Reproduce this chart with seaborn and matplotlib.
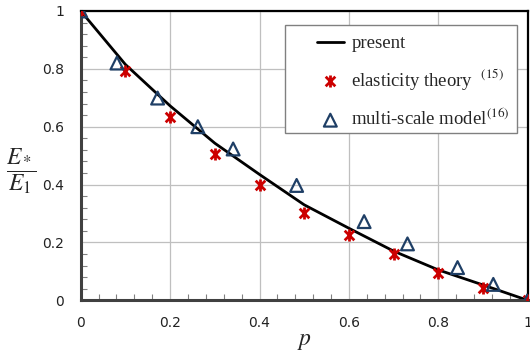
import numpy as np
import matplotlib
matplotlib.use('Agg')
import matplotlib.pyplot as plt
from matplotlib.path import Path
from matplotlib.patches import Rectangle
from matplotlib.ticker import MultipleLocator
import seaborn as sns

# data
p_present = [0.0, 0.1, 0.2, 0.3, 0.4, 0.5, 0.6, 0.7, 0.8, 0.9, 1.0]
e_present = [1.0, 0.815, 0.672, 0.543, 0.435, 0.33, 0.249, 0.17, 0.105, 0.053, 0.0]

p_elastic = [0.0, 0.1, 0.2, 0.3, 0.4, 0.5, 0.6, 0.7, 0.8, 0.9, 1.0]
e_elastic = [1.0, 0.791, 0.633, 0.506, 0.397, 0.301, 0.226, 0.159, 0.096, 0.044, 0.0]

p_multi = [0.0, 0.081, 0.172, 0.262, 0.341, 0.483, 0.634, 0.731, 0.843, 0.923, 1.0]
e_multi = [1.0, 0.82, 0.699, 0.60, 0.523, 0.397, 0.272, 0.195, 0.113, 0.055, 0.0]

ticks = [0, 0.2, 0.4, 0.6, 0.8, 1.0]
tick_labels = ['0', '0.2', '0.4', '0.6', '0.8', '1']

sns.set_style('white')
plt.rcParams['mathtext.fontset'] = 'stix'

# Excel style star marker: x with a vertical bar
star = Path([(-1, -1), (1, 1), (-1, 1), (1, -1), (0, -1.25), (0, 1.25)],
            [Path.MOVETO, Path.LINETO, Path.MOVETO, Path.LINETO, Path.MOVETO, Path.LINETO])

fig = plt.figure(figsize=(5.3, 3.54), dpi=100)
ax = fig.add_axes([0.1523, 0.1517, 0.8434, 0.8173])

sns.lineplot(x=p_present, y=e_present, ax=ax, color='black', lw=2, label='present')
sns.scatterplot(x=p_elastic, y=e_elastic, ax=ax, marker=star, s=75, color='#cc0000',
                edgecolor='#cc0000', linewidth=2, label=r'elasticity theory  $^{(15)}$', zorder=3)
sns.scatterplot(x=p_multi, y=e_multi, ax=ax, marker='^', s=85, facecolor='none',
                edgecolor='#1f3f66', linewidth=1.6, label=r'multi-scale model$^{(16)}$', zorder=3)

ax.set_xlim(0, 1)
ax.set_ylim(0, 1)
ax.set_xticks(ticks)
ax.set_yticks(ticks)
ax.set_xticklabels(tick_labels)
ax.set_yticklabels(tick_labels)
ax.xaxis.set_minor_locator(MultipleLocator(0.04))
ax.yaxis.set_minor_locator(MultipleLocator(0.04))
ax.grid(True, which='major', color='#bfbfbf', lw=0.9)
ax.set_axisbelow(True)

ax.tick_params(axis='x', which='major', direction='out', length=4, width=1, color='#404040',
               labelsize=10, pad=7, labelcolor='#222222')
ax.tick_params(axis='y', which='major', direction='out', length=0, labelsize=10, pad=12,
               labelcolor='#222222')
ax.tick_params(which='minor', direction='in', length=4, width=0.8, color='#808080')
ax.tick_params(axis='x', which='minor', bottom=True)
ax.tick_params(axis='y', which='minor', left=True)

for side in ['left', 'bottom']:
    ax.spines[side].set_color('#404040')
    ax.spines[side].set_linewidth(2.2)
for side in ['top', 'right']:
    ax.spines[side].set_color('black')
    ax.spines[side].set_linewidth(1.6)

# legend without its own frame, box drawn separately (wide left margin like the original)
leg = ax.legend(loc='upper left', bbox_to_anchor=(0.528, 0.916), borderaxespad=0,
                frameon=False, prop={'family': 'Liberation Serif', 'size': 13.5},
                handlelength=1.45, labelspacing=0.8, borderpad=0, handletextpad=0.4)
leg.set_zorder(6)
ax.add_patch(Rectangle((0.457, 0.578), 0.519, 0.374, transform=ax.transAxes,
                       facecolor='white', edgecolor='#808080', lw=1, zorder=5))

ax.set_xlabel('')
ax.set_ylabel('')
fig.text(0.574, 0.025, r'$p$', fontsize=17, ha='center', va='baseline')
fig.text(0.04, 1 - 171 / 354, r'$\dfrac{E_*}{E_1}$', fontsize=17, ha='center', va='center')

fig.savefig('out.png', dpi=100)
